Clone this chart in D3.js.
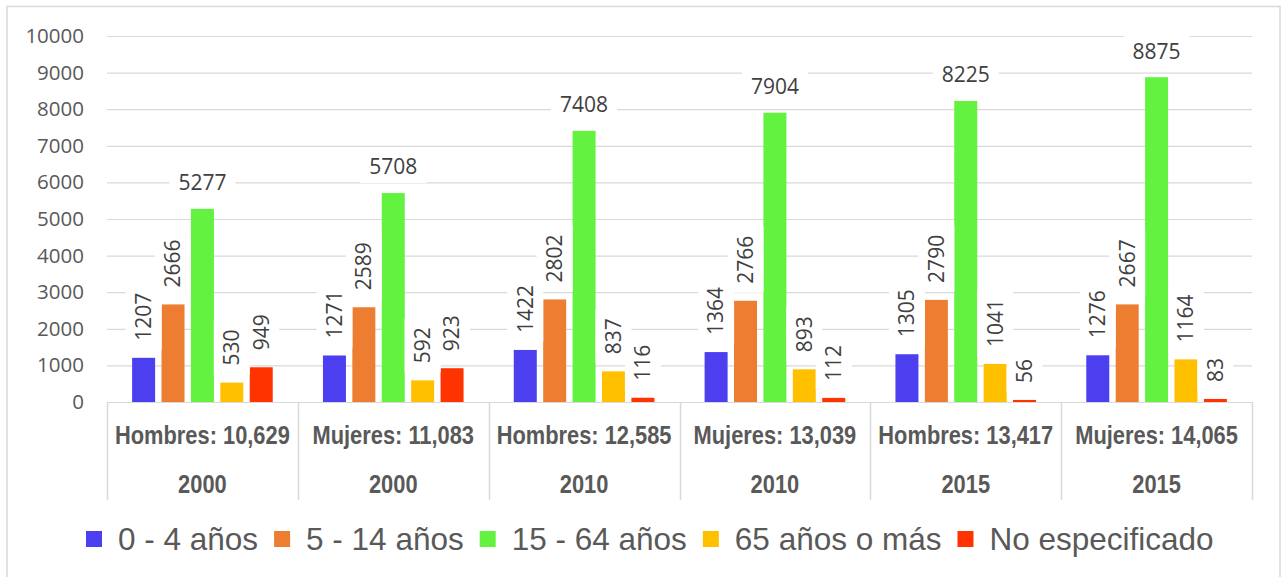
<!doctype html>
<html lang="es">
  <head>
    <meta charset="utf-8">
    <title>Población por grupos de edad</title>
    <script src="https://d3js.org/d3.v7.min.js"></script>
    <style>
      body { margin: 0; background: #fff; }
      svg { display: block; }
    </style>
  </head>
  <body>
    <div id="chart"></div>

    <script>
      // data
      var categories = ["Hombres: 10,629", "Mujeres: 11,083", "Hombres: 12,585", "Mujeres: 13,039", "Hombres: 13,417", "Mujeres: 14,065"];
      var years = ["2000", "2000", "2010", "2010", "2015", "2015"];
      var seriesNames = ["0 - 4 años", "5 - 14 años", "15 - 64 años", "65 años o más", "No especificado"];
      var edad0a4 = [1207, 1271, 1422, 1364, 1305, 1276];
      var edad5a14 = [2666, 2589, 2802, 2766, 2790, 2667];
      var edad15a64 = [5277, 5708, 7408, 7904, 8225, 8875];
      var edad65mas = [530, 592, 837, 893, 1041, 1164];
      var noEspecificado = [949, 923, 116, 112, 56, 83];
      var yTicks = [0, 1000, 2000, 3000, 4000, 5000, 6000, 7000, 8000, 9000, 10000];

      var seriesValues = [edad0a4, edad5a14, edad15a64, edad65mas, noEspecificado];
      var colors = ["#4b3ff0", "#ed7d31", "#62f23f", "#ffc000", "#ff3300"];

      var W = 1282, H = 577;
      var textColor = "#595959", gridColor = "#d9d9d9";
      var plotLeft = 107, plotRight = 1252, plotTop = 36, plotBottom = 402;

      var svg = d3.select("#chart").append("svg")
        .attr("width", W)
        .attr("height", H);

      // outer frame (bottom edge runs past the picture)
      svg.append("rect")
        .attr("x", 7).attr("y", 6.5)
        .attr("width", 1273).attr("height", 600)
        .attr("fill", "#fff")
        .attr("stroke", gridColor)
        .attr("stroke-width", 1.5);

      var x = d3.scaleBand()
        .domain(d3.range(categories.length))
        .range([plotLeft, plotRight]);

      var xs = d3.scaleBand()
        .domain(d3.range(seriesNames.length))
        .range([0, x.bandwidth()])
        .paddingInner(0.218)
        .paddingOuter(0.854);

      var y = d3.scaleLinear()
        .domain([0, 10000])
        .range([plotBottom, plotTop]);

      // y axis with gridlines
      var yAxis = svg.append("g")
        .attr("transform", "translate(" + plotLeft + ",0)")
        .call(d3.axisLeft(y).tickValues(yTicks).tickSize(-(plotRight - plotLeft)).tickPadding(23).tickFormat(d3.format("d")));
      yAxis.select(".domain").remove();
      yAxis.selectAll(".tick line").attr("stroke", gridColor).attr("stroke-width", 1.2);
      yAxis.selectAll(".tick text")
        .attr("fill", textColor)
        .style("font-family", "'Open Sans', sans-serif")
        .style("font-size", "20.5px");

      // bars
      var rows = [];
      seriesValues.forEach(function(vals, s) {
        vals.forEach(function(v, c) { rows.push({s: s, c: c, v: v}); });
      });

      svg.append("g").selectAll("rect")
        .data(rows)
        .enter().append("rect")
          .attr("x", function(d) { return x(d.c) + xs(d.s); })
          .attr("y", function(d) { return y(d.v); })
          .attr("width", xs.bandwidth())
          .attr("height", function(d) { return y(0) - y(d.v); })
          .attr("fill", function(d) { return colors[d.s]; });

      // data labels (white boxes behind them)
      var labels = svg.append("g");
      rows.forEach(function(d) {
        var cx = x(d.c) + xs(d.s) + xs.bandwidth() / 2;
        var g = labels.append("g");
        var t = g.append("text")
          .text(d.v)
          .attr("fill", "#404040")
          .style("font-family", "'Open Sans', sans-serif")
          .style("font-size", "21px");
        var tw = t.node().getComputedTextLength();
        if (d.s === 2) {
          // horizontal label above the tall bar
          var cy = y(d.v) - 26;
          g.attr("transform", "translate(" + cx + "," + cy + ")");
          t.attr("text-anchor", "middle").attr("dy", "0.35em");
          g.insert("rect", "text")
            .attr("x", -tw / 2 - 9).attr("y", -16)
            .attr("width", tw + 18).attr("height", 32)
            .attr("fill", "#fff");
        } else {
          var sy = y(d.v) - 17;
          g.attr("transform", "translate(" + cx + "," + sy + ") rotate(-90)");
          t.attr("text-anchor", "start").attr("dy", "0.35em");
          g.insert("rect", "text")
            .attr("x", -9).attr("y", -18)
            .attr("width", tw + 18).attr("height", 36)
            .attr("fill", "#fff");
        }
      });

      // category axis (two levels)
      var axisG = svg.append("g");
      var bounds = d3.range(categories.length).map(function(i) { return x(i); }).concat([plotRight]);
      axisG.selectAll("line")
        .data(bounds)
        .enter().append("line")
          .attr("x1", function(d) { return Math.round(d) + 0.5; })
          .attr("x2", function(d) { return Math.round(d) + 0.5; })
          .attr("y1", plotBottom)
          .attr("y2", 500)
          .attr("stroke", gridColor)
          .attr("stroke-width", 1.5);

      // narrow bold look: squeeze Liberation Sans Bold
      function narrowText(sel, rowY) {
        sel.enter().append("text")
          .attr("x", function(d, i) { return x(i) + x.bandwidth() / 2; })
          .attr("y", rowY)
          .attr("dy", "0.35em")
          .attr("text-anchor", "middle")
          .attr("fill", textColor)
          .style("font-family", "'Liberation Sans', Arial, sans-serif")
          .style("font-weight", "bold")
          .style("font-size", "26px")
          .text(function(d) { return d; })
          .each(function() {
            var w = this.getComputedTextLength();
            d3.select(this).attr("textLength", w * 0.84).attr("lengthAdjust", "spacingAndGlyphs");
          });
      }
      narrowText(axisG.selectAll("text.cat").data(categories), 435);
      narrowText(axisG.selectAll("text.year").data(years), 484);

      // legend
      var legend = svg.append("g").attr("transform", "translate(86,539)");
      var lx = 0;
      seriesNames.forEach(function(name, i) {
        var item = legend.append("g").attr("transform", "translate(" + lx + ",0)");
        item.append("rect")
          .attr("x", 0).attr("y", -8)
          .attr("width", 16).attr("height", 16)
          .attr("fill", colors[i]);
        var t = item.append("text")
          .attr("x", 32)
          .attr("dy", "0.35em")
          .attr("fill", textColor)
          .style("font-family", "'Liberation Sans', Arial, sans-serif")
          .style("font-size", "31.5px")
          .text(name);
        lx += 32 + t.node().getComputedTextLength() + 16;
      });
    </script>
  </body>
</html>
